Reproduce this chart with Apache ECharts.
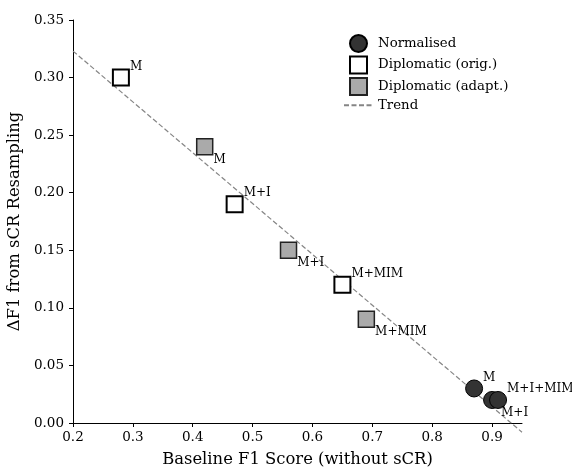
<!DOCTYPE html>
<html>
<head>
<meta charset="utf-8">
<script src="https://cdn.jsdelivr.net/npm/echarts@6/dist/echarts.min.js"></script>
<style>
  html, body { margin: 0; padding: 0; background: #fff; }
  #chart { width: 572px; height: 468px; }
</style>
</head>
<body>
<div id="chart"></div>
<script>
// data
var normX = [0.87, 0.90, 0.91]
var normY = [0.03, 0.02, 0.02]
var normLabels = ['M', 'M+I', 'M+I+MIM']

var origX = [0.28, 0.47, 0.65]
var origY = [0.30, 0.19, 0.12]
var origLabels = ['M', 'M+I', 'M+MIM']

var adaptX = [0.42, 0.56, 0.69]
var adaptY = [0.24, 0.15, 0.09]
var adaptLabels = ['M', 'M+I', 'M+MIM']

var trendX = [0.2, 0.95]
var trendY = [0.323, -0.008]

var xTicks = [0.2, 0.3, 0.4, 0.5, 0.6, 0.7, 0.8, 0.9]
var yTicks = [0, 0.05, 0.1, 0.15, 0.2, 0.25, 0.3, 0.35]

var FONT = 'DejaVu Serif'
var SQUARE = 'path://M0,0H10V10H0Z'

// where each text sits next to its marker: above-right or below-right
function labelled(xs, ys, names, below) {
  return xs.map(function (x, i) {
    var down = typeof below === 'function' ? below(names[i]) : below
    return {
      value: [x, ys[i]],
      label: {
        show: true,
        formatter: names[i],
        position: 'right',
        distance: 0,
        offset: [0, down ? 13 : -11],
        fontFamily: FONT,
        fontSize: 12,
        color: '#000'
      }
    }
  })
}

var chart = echarts.init(document.getElementById('chart'), null, {renderer: 'canvas'})

var option = {
  backgroundColor: '#fff',
  animation: false,
  textStyle: {fontFamily: FONT},
  grid: {left: 73, right: 50, top: 20, bottom: 45, outerBoundsMode: 'none'},
  legend: {
    orient: 'vertical',
    left: 338,
    top: 29,
    itemWidth: 29,
    itemHeight: 17,
    itemGap: 2.5,
    textStyle: {fontFamily: FONT, fontSize: 13.3, color: '#000'},
    data: [
      {name: 'Normalised', icon: 'circle'},
      {name: 'Diplomatic (orig.)', icon: SQUARE},
      {name: 'Diplomatic (adapt.)', icon: SQUARE},
      {name: 'Trend'}
    ]
  },
  xAxis: {
    type: 'value',
    min: 0.2,
    max: 0.95,
    interval: 0.1,
    name: 'Baseline F1 Score (without sCR)',
    nameLocation: 'middle',
    nameGap: 29,
    nameTextStyle: {fontFamily: FONT, fontSize: 16.4, color: '#000'},
    axisLine: {lineStyle: {color: '#000', width: 1}},
    axisTick: {show: true, length: 4, customValues: xTicks, lineStyle: {color: '#000'}},
    axisLabel: {
      customValues: xTicks,
      fontFamily: FONT, fontSize: 13.5, color: '#000', margin: 7,
      formatter: function (v) { return v.toFixed(1) }
    },
    splitLine: {show: false}
  },
  yAxis: {
    type: 'value',
    min: 0,
    max: 0.35,
    interval: 0.05,
    name: '\u0394F1 from sCR Resampling',
    nameLocation: 'middle',
    nameGap: 40,
    nameTextStyle: {fontFamily: FONT, fontSize: 16.4, color: '#000'},
    axisLine: {show: true, lineStyle: {color: '#000', width: 1}},
    axisTick: {show: true, length: 4, customValues: yTicks, lineStyle: {color: '#000'}},
    axisLabel: {
      customValues: yTicks,
      fontFamily: FONT, fontSize: 13.5, color: '#000', margin: 9,
      formatter: function (v) { return v.toFixed(2) }
    },
    splitLine: {show: false}
  },
  series: [
    {
      name: 'Trend',
      type: 'line',
      data: trendX.map(function (x, i) { return [x, trendY[i]] }),
      symbol: 'none',
      clip: false,
      z: 1,
      lineStyle: {color: '#858585', width: 1.2, type: [5, 2.5]},
      itemStyle: {color: 'rgba(0,0,0,0)', borderWidth: 0}
    },
    {
      name: 'Normalised',
      type: 'scatter',
      symbol: 'circle',
      symbolSize: 17,
      z: 3,
      itemStyle: {color: '#333', borderColor: '#000', borderWidth: 1, opacity: 1},
      data: labelled(normX, normY, normLabels, function (n) { return n === 'M+I' })
    },
    {
      name: 'Diplomatic (orig.)',
      type: 'scatter',
      symbol: 'rect',
      symbolSize: 16,
      z: 3,
      itemStyle: {color: '#fff', borderColor: '#000', borderWidth: 2, opacity: 1},
      data: labelled(origX, origY, origLabels, false)
    },
    {
      name: 'Diplomatic (adapt.)',
      type: 'scatter',
      symbol: 'rect',
      symbolSize: 16,
      z: 3,
      itemStyle: {color: '#aaa', borderColor: '#222', borderWidth: 1.5, opacity: 1},
      data: labelled(adaptX, adaptY, adaptLabels, true)
    }
  ]
}

chart.setOption(option)
</script>
</body>
</html>
